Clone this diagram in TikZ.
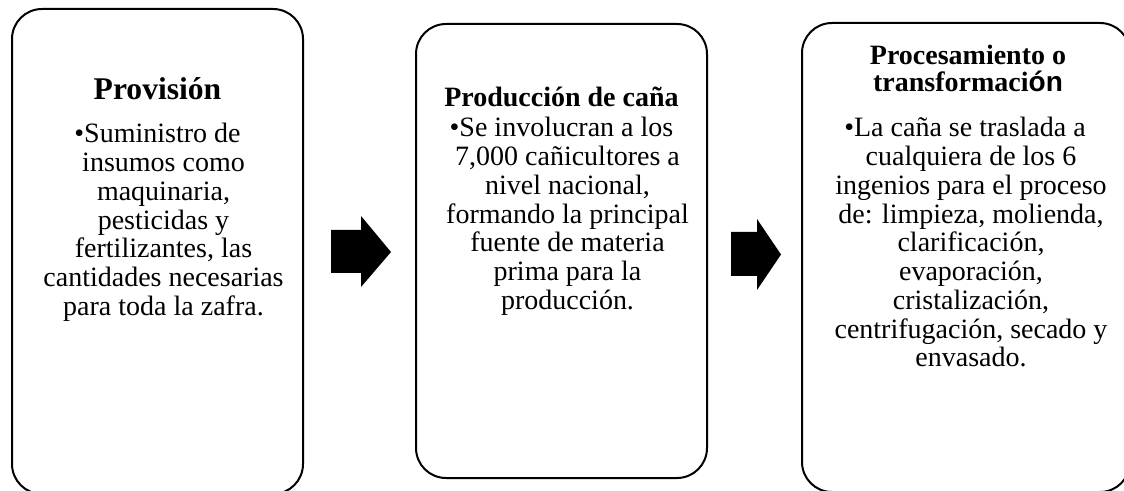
\documentclass[tikz,border=0pt]{standalone}
\usepackage{fontspec}
\setmainfont{Liberation Serif}
\newfontfamily\sansbold{Liberation Sans}
\newcommand\cl[1]{\hbox to 0pt{\hss#1\hss}}
\newcommand\lstack[2]{\vtop{\baselineskip=#1\lineskiplimit=-\maxdimen\lineskip=0pt #2}}
\begin{document}
\begin{tikzpicture}[x=0.75pt,y=-0.75pt,
  box/.style={draw, line width=1.5pt, rounded corners=22.5pt, inner sep=0pt},
  ttl/.style={font=\bfseries\fontsize{21}{21}\selectfont, anchor=base, inner sep=0pt},
  body/.style={font=\fontsize{21}{21.56}\selectfont, anchor=base, inner sep=0pt},
  blk/.style={fill=black}]
\useasboundingbox (0,0) rectangle (1124,491);
\clip (0,0) rectangle (1124,491);
% boxes
\node[box, minimum width=218.25pt, minimum height=363.75pt] (b1) at (157.5,251.5) {};
\node[box, minimum width=218.25pt, minimum height=340.5pt] (b2) at (561.5,251) {};
\node[box, minimum width=246pt, minimum height=351.75pt] (b3) at (966,257.5) {};
% titles
\node[ttl, font=\bfseries\fontsize{23.7}{23.7}\selectfont] (t1) at (157.5,100) {Provisión};
\node[ttl] (t2) at (561.5,107) {Producción de caña};
\node[ttl] (t3) at (968,65) {\lstack{20pt}{\cl{Procesamiento o}\cl{transformaci{\sansbold ón}}}};
% bodies
\node[body] (d1) at (163.5,143) {\lstack{21.56pt}{%
  \cl{•Suministro de\kern9pt}%
  \cl{insumos como}%
  \cl{maquinaria,}%
  \cl{pesticidas y}%
  \cl{fertilizantes, las}%
  \cl{cantidades necesarias}%
  \cl{para toda la zafra.}}};
\node[body] (d2) at (567.5,137) {\lstack{21.56pt}{%
  \cl{•Se involucran a los\kern9pt}%
  \cl{7,000 cañicultores a}%
  \cl{nivel nacional,}%
  \cl{formando la principal}%
  \cl{fuente de materia}%
  \cl{prima para la}%
  \cl{producción.}}};
\node[body] (d3) at (971,137) {\lstack{21.56pt}{%
  \cl{•La caña se traslada a\kern9pt}%
  \cl{cualquiera de los 6}%
  \cl{ingenios para el proceso}%
  \cl{de: limpieza, molienda,}%
  \cl{clarificación,}%
  \cl{evaporación,}%
  \cl{cristalización,}%
  \cl{centrifugación, secado y}%
  \cl{envasado.}}};
% block arrows
\fill[blk] (331,230) -- (361,230) -- (361,216) -- (391,252) -- (361,287) -- (361,273) -- (331,273) -- cycle;
\fill[blk] (731,232) -- (757,232) -- (757,219) -- (781,254.5) -- (757,290) -- (757,276) -- (731,276) -- cycle;
\end{tikzpicture}
\end{document}
